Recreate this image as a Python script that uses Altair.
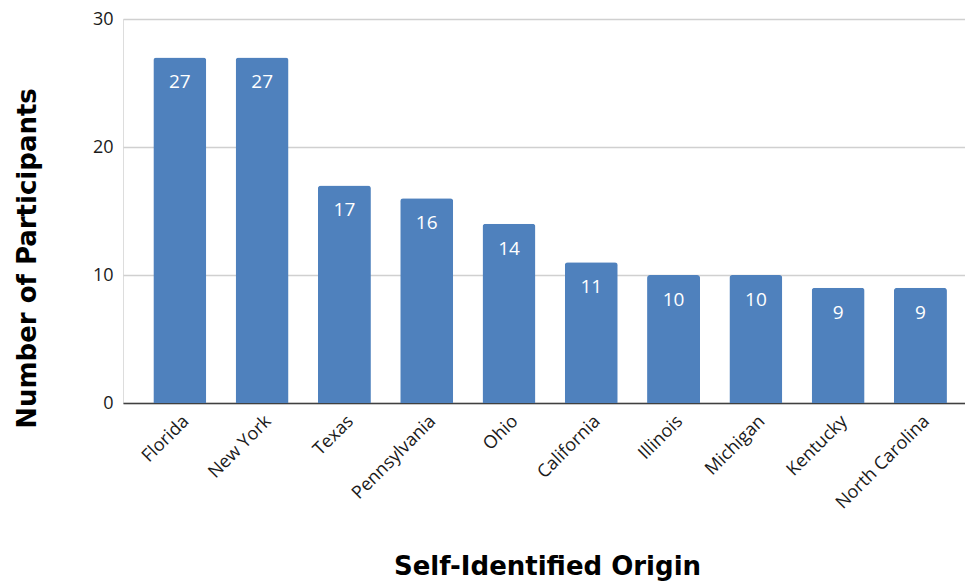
import altair as alt
import pandas as pd

states = ["Florida", "New York", "Texas", "Pennsylvania", "Ohio",
          "California", "Illinois", "Michigan", "Kentucky", "North Carolina"]
participants = [27, 27, 17, 16, 14, 11, 10, 10, 9, 9]

df = pd.DataFrame({"state": states, "count": participants})

x_enc = alt.X(
    "state:N",
    sort=states,
    scale=alt.Scale(paddingInner=0.356, paddingOuter=0.294, align=0.627),
    axis=alt.Axis(
        title="Self-Identified Origin",
        titleFont="DejaVu Sans",
        titleFontSize=26,
        titleFontWeight="bold",
        titleColor="#000000",
        titleX=424,
        titleY=163,
        titleBaseline="middle",
        titleAnchor="start",
        titleAlign="center",
        labelAngle=-45,
        labelFont="Open Sans",
        labelFontSize=18,
        labelColor="#1a1a1a",
        labelPadding=9,
        ticks=False,
        domainColor="#404040",
        domainWidth=1.5,
    ),
)

y_enc = alt.Y(
    "count:Q",
    scale=alt.Scale(domain=[0, 30]),
    axis=alt.Axis(
        title="Number of Participants",
        titleFont="DejaVu Sans",
        titleFontSize=26,
        titleFontWeight="bold",
        titleColor="#000000",
        titleAngle=-90,
        titleX=-96,
        titleY=239,
        titleAlign="center",
        titleBaseline="middle",
        values=[0, 10, 20, 30],
        labelFont="Open Sans",
        labelFontSize=18,
        labelColor="#1a1a1a",
        labelPadding=10,
        ticks=False,
        domain=False,
        gridColor="#d0d0d0",
        gridWidth=1.3,
    ),
)

bars = alt.Chart(df).mark_bar(
    color="#4f81bd", cornerRadiusTopLeft=3, cornerRadiusTopRight=3
).encode(x=x_enc, y=y_enc)

labels = alt.Chart(df).mark_text(
    color="white", font="Open Sans", fontSize=19, baseline="middle", dy=25
).encode(
    x=alt.X("state:N", sort=states),
    y=alt.Y("count:Q"),
    text=alt.Text("count:Q"),
)

chart = (
    alt.layer(bars, labels)
    .properties(
        width=842,
        height=384,
        autosize=alt.AutoSizeParams(type="none"),
        padding={"left": 123, "top": 19, "right": 0, "bottom": 179},
    )
    .configure_view(stroke=None)
    .configure(background="white")
)

chart.save("out.html", embed_options={"renderer": "svg", "actions": False})
